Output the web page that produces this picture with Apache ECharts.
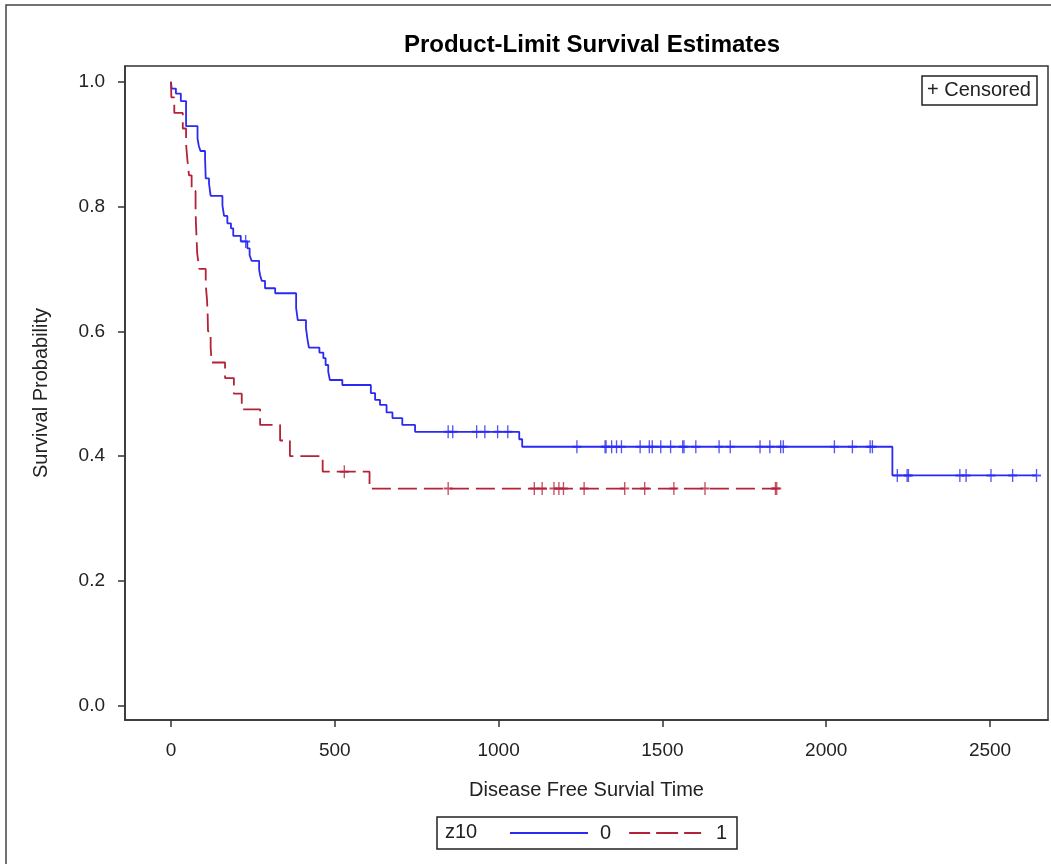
<!DOCTYPE html>
<html>
<head>
<meta charset="utf-8">
<script src="https://cdn.jsdelivr.net/npm/echarts@6/dist/echarts.min.js"></script>
<style>html,body{margin:0;padding:0;background:#fff;}#c{width:1051px;height:864px;}</style>
</head>
<body>
<div id="c"></div>
<script>
// ---- data ----
const chartTitle = 'Product-Limit Survival Estimates';
const xTitle = 'Disease Free Survial Time';
const yTitle = 'Survival Probability';
const groupTitle = 'z10';
const groupNames = ['0', '1'];
const xTicks = [0, 500, 1000, 1500, 2000, 2500];
const yTicks = [0, 0.2, 0.4, 0.6, 0.8, 1.0];

// group 0 : event times and survival after each event
const blueTimes = [0,2,15,30,46,81,85,90,104,106,116,121,157,162,172,183,190,213,233,240,246,269,272,277,287,318,382,387,412,417,421,453,465,472,480,485,523,610,623,638,658,676,706,745,1063,1072,2202];
const blueSurv  = [1,0.989,0.981,0.969,0.929,0.909,0.897,0.889,0.877,0.845,0.837,0.817,0.802,0.785,0.773,0.765,0.753,0.744,0.733,0.722,0.713,0.699,0.690,0.681,0.669,0.661,0.637,0.618,0.605,0.586,0.574,0.566,0.557,0.546,0.535,0.522,0.514,0.501,0.490,0.482,0.470,0.461,0.450,0.439,0.427,0.415,0.369];
const blueEnd = 2642;
const blueCensor = [228,846,860,933,958,997,1028,1239,1325,1328,1345,1360,1375,1432,1460,1469,1495,1525,1562,1566,1602,1673,1707,1798,1828,1861,1869,2025,2080,2134,2141,2217,2247,2251,2408,2427,2503,2569,2642];

// group 1
const redTimes = [0,1,10,36,46,50,55,63,75,76,78,80,86,106,110,112,113,121,124,165,192,216,272,333,363,463,606];
const redSurv  = [1,0.975,0.95,0.925,0.9,0.875,0.85,0.825,0.8,0.775,0.75,0.725,0.7,0.675,0.65,0.625,0.6,0.575,0.55,0.525,0.5,0.475,0.45,0.425,0.4,0.375,0.348];
const redEnd = 1849;
const redCensor = [529,846,1109,1133,1169,1184,1198,1261,1385,1446,1535,1630,1845,1849];

// ---- helpers ----
function survAt(times, surv, t) {
  let s = surv[0];
  for (let i = 0; i < times.length; i++) { if (times[i] <= t) s = surv[i]; }
  return s;
}
function curve(times, surv, end) {
  const d = times.map((t, i) => [t, surv[i]]);
  d.push([end, surv[surv.length - 1]]);
  return d;
}
function marks(times, surv, cens) {
  return cens.map(t => [t, survAt(times, surv, t)]);
}

const BLUE = '#2a2af2';
const RED = '#b4223a';
const FONT = 'Liberation Sans, Arial, sans-serif';
const plus = 'path://M4.5,0L4.5,13M0,6.5L9,6.5';
const solidIcon = 'path://M0,0L78,0L78,1.8L0,1.8Z';
const dashIcon = 'path://M0,0L21,0L21,1.8L0,1.8Z M27,0L49,0L49,1.8L27,1.8Z M55,0L72,0L72,1.8L55,1.8Z';

const chart = echarts.init(document.getElementById('c'), null, {renderer: 'canvas'});
chart.setOption({
  animation: false,
  backgroundColor: '#fff',
  title: {
    text: chartTitle, left: 587, top: 28, textAlign: 'center',
    textStyle: {fontFamily: FONT, fontWeight: 'bold', fontSize: 24, color: '#000'}
  },
  grid: {left: 125, top: 66, right: 3, bottom: 144, show: true, borderColor: '#333', borderWidth: 1.5, containLabel: false},
  xAxis: {
    type: 'value', min: -140.4, max: 2677,
    name: xTitle, nameLocation: 'middle', nameGap: 60,
    nameTextStyle: {fontFamily: FONT, fontSize: 20, color: '#222'},
    axisLine: {show: true, onZero: false, lineStyle: {color: '#333', width: 1.5}},
    axisTick: {show: true, length: 7, customValues: xTicks, lineStyle: {color: '#333', width: 1.5}},
    axisLabel: {customValues: xTicks, margin: 21, fontFamily: FONT, fontSize: 19, color: '#222', formatter: v => String(v)},
    splitLine: {show: false}
  },
  yAxis: {
    type: 'value', min: -0.0229, max: 1.0252,
    name: yTitle, nameLocation: 'middle', nameGap: 74,
    nameTextStyle: {fontFamily: FONT, fontSize: 20, color: '#222'},
    axisLine: {show: true, onZero: false, lineStyle: {color: '#333', width: 1.5}},
    axisTick: {show: true, length: 7, customValues: yTicks, lineStyle: {color: '#333', width: 1.5}},
    axisLabel: {customValues: yTicks, margin: 20, fontFamily: FONT, fontSize: 19, color: '#222', formatter: v => v.toFixed(1)},
    splitLine: {show: false}
  },
  legend: {
    data: [{name: groupNames[0], icon: solidIcon}, {name: groupNames[1], icon: dashIcon}],
    left: 510, top: 823, itemWidth: 78, itemHeight: 1.8, itemGap: 18,
    textStyle: {fontFamily: FONT, fontSize: 20, color: '#222', padding: [0, 0, 0, 7]},
    padding: 0, selectedMode: false
  },
  graphic: [
    {type: 'rect', shape: {x: 6, y: 5, width: 1100, height: 900}, style: {fill: 'none', stroke: '#444', lineWidth: 1.5}, silent: true, z: -1},
    {type: 'rect', shape: {x: 437, y: 817, width: 300, height: 32}, style: {fill: 'none', stroke: '#222', lineWidth: 1.5}, silent: true},
    {type: 'text', left: 445, top: 822, style: {text: groupTitle, font: '20px ' + FONT, fill: '#222'}},
    {type: 'rect', shape: {x: 922, y: 76, width: 115, height: 29}, style: {fill: '#fff', stroke: '#222', lineWidth: 1.5}, silent: true, z: 10},
    {type: 'text', left: 927, top: 80, z: 11, style: {text: '+ Censored', font: '20px ' + FONT, fill: '#222'}}
  ],
  series: [
    {name: groupNames[0], type: 'line', step: 'end', showSymbol: false, symbol: 'none',
     data: curve(blueTimes, blueSurv, blueEnd), lineStyle: {color: BLUE, width: 1.8}, itemStyle: {color: BLUE}, z: 3},
    {name: groupNames[1], type: 'line', step: 'end', showSymbol: false, symbol: 'none',
     data: curve(redTimes, redSurv, redEnd), lineStyle: {color: RED, width: 1.8, type: [19, 7]}, itemStyle: {color: RED}, z: 3},
    {name: 'c0', type: 'scatter', symbol: plus, symbolSize: [9, 13],
     data: marks(blueTimes, blueSurv, blueCensor), itemStyle: {color: 'rgba(0,0,0,0)', borderColor: BLUE, borderWidth: 1.6}, z: 4},
    {name: 'c1', type: 'scatter', symbol: plus, symbolSize: [9, 13],
     data: marks(redTimes, redSurv, redCensor), itemStyle: {color: 'rgba(0,0,0,0)', borderColor: RED, borderWidth: 1.6}, z: 4}
  ]
});
</script>
</body>
</html>
